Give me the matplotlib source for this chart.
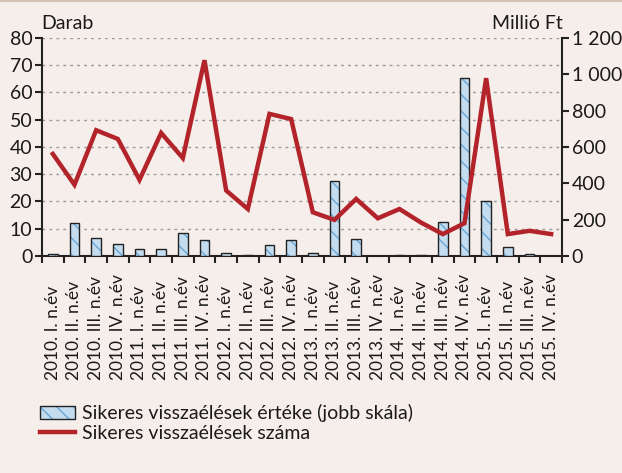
import numpy as np
import matplotlib
matplotlib.use('Agg')
from matplotlib import pyplot as plt
from matplotlib.patches import Patch
from matplotlib.legend_handler import HandlerTuple

plt.rcParams['font.family'] = ['Lato', 'DejaVu Sans']
FS = 14

quarters = ['I.', 'II.', 'III.', 'IV.']
years = [2010, 2011, 2012, 2013, 2014, 2015]
labels = [f'{y}. {q} n.év' for y in years for q in quarters]

# number of successful frauds (left axis, pieces)
count = [37.4, 26.1, 46.1, 42.9, 27.9, 45.1, 35.9, 71.8,
         24.0, 17.2, 52.1, 50.2, 16.0, 13.2, 20.9, 13.8,
         17.2, 12.2, 8.0, 12.0, 65.2, 8.0, 9.2, 8.0]
# value of successful frauds (right axis, million HUF)
value = [13, 182, 97, 64, 40, 40, 125, 86,
         15, 7, 62, 86, 18, 410, 94, 0,
         7, 7, 189, 980, 300, 50, 11, 0]

bg = '#f6eeeb'
red = '#b3242a'
dark = '#222222'
txt = '#1a1a1a'
fill_c = '#c3dcf0'
hatch_c = '#6aa6d6'

fig = plt.figure(figsize=(6.22, 4.73), dpi=100, facecolor=bg)
ax = fig.add_axes([0.0675, 0.459, 0.836, 0.461])
ax.set_facecolor(bg)
ax2 = ax.twinx()

x = np.arange(len(labels))

# bars: hatched fill first, then a dark outline on top
ax2.bar(x, value, width=0.44, color=fill_c, edgecolor=hatch_c,
        linewidth=0, hatch='\\\\', zorder=2)
ax2.bar(x, value, width=0.44, fill=False, edgecolor=dark, linewidth=1.0, zorder=3)
ax2.plot(x, np.array(count) * 15, color=red, linewidth=3.2, zorder=4,
         solid_joinstyle='miter')

ax.set_xlim(-0.5, len(labels) - 0.5)
ax.set_ylim(0, 80)
ax2.set_ylim(0, 1200)
ax.set_yticks(range(0, 81, 10))
ax2.set_yticks(range(0, 1201, 200))
ax2.set_yticklabels([f'{v:,}'.replace(',', ' ') for v in range(0, 1201, 200)])

for v in range(10, 81, 10):
    ax.axhline(v, color='#9a9a9a', linewidth=1.0, linestyle=(0, (2, 3)), zorder=0)

ax.set_xticks(x)
ax.set_xticklabels(labels, rotation=90, va='bottom', ha='center')
ax.set_xticks(np.arange(-0.5, len(labels)), minor=True)
ax.tick_params(axis='x', which='major', length=0, pad=89, labelsize=12.5, colors=txt)
ax.tick_params(axis='x', which='minor', length=5, width=1.5, color=dark, direction='out')
ax.tick_params(axis='y', length=5, width=1.5, color=dark, labelsize=FS,
               labelcolor=txt, pad=2)
ax2.tick_params(axis='y', length=5, width=1.5, color=dark, labelsize=FS,
                labelcolor=txt, pad=2)

for a in (ax, ax2):
    for s in a.spines.values():
        s.set_visible(False)
ax.spines['left'].set_visible(True)
ax.spines['bottom'].set_visible(True)
ax2.spines['right'].set_visible(True)
for s in (ax.spines['left'], ax.spines['bottom'], ax2.spines['right']):
    s.set_color(dark)
    s.set_linewidth(1.5)

fig.text(0.066, 0.951, 'Darab', fontsize=FS, color=txt, ha='left', va='center')
fig.text(0.904, 0.951, 'Millió Ft', fontsize=FS, color=txt, ha='right', va='center')

bar_handle = (Patch(facecolor=fill_c, edgecolor=hatch_c, hatch='\\\\', linewidth=0),
              Patch(fill=False, edgecolor=dark, linewidth=1.0))
line_handle = plt.Line2D([], [], color=red, linewidth=3.2)
fig.legend([bar_handle, line_handle],
           ['Sikeres visszaélések értéke (jobb skála)', 'Sikeres visszaélések száma'],
           handler_map={tuple: HandlerTuple(ndivide=1, pad=0)},
           loc='upper left', bbox_to_anchor=(0.064, 0.145), frameon=False,
           fontsize=FS, handlelength=1.8, handleheight=0.6, handletextpad=0.36,
           labelspacing=0.12, borderaxespad=0, borderpad=0, labelcolor=txt)

# thin rule along the top edge
fig.add_artist(plt.Line2D([0, 1], [0.998, 0.998], color='#d6c0b2', linewidth=1.5,
                          transform=fig.transFigure))

fig.savefig('out.png', dpi=100, facecolor=bg)
